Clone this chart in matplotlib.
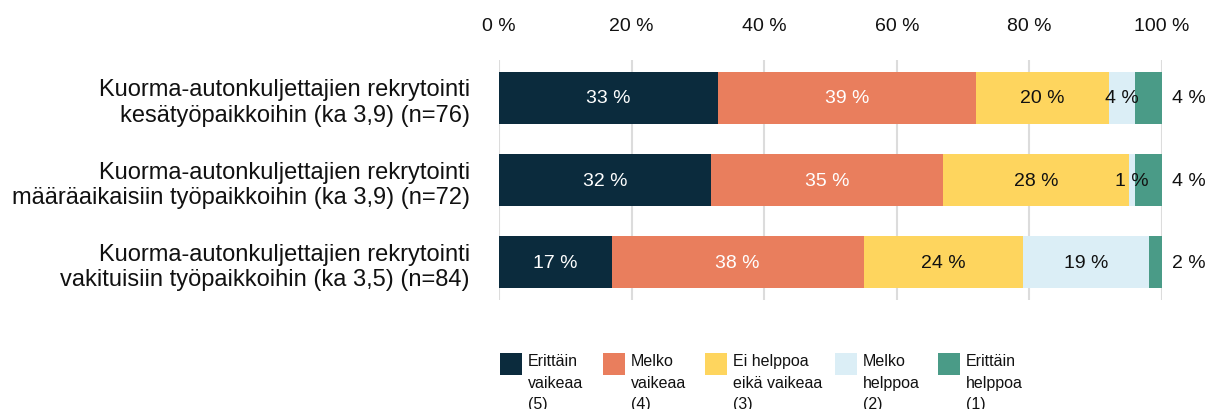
import matplotlib.pyplot as plt
from matplotlib.patches import Rectangle

plt.rcParams['font.family'] = ['Liberation Sans', 'DejaVu Sans']

categories = [
    "Kuorma-autonkuljettajien rekrytointi\nkesätyöpaikkoihin (ka 3,9) (n=76)",
    "Kuorma-autonkuljettajien rekrytointi\nmääräaikaisiin työpaikkoihin (ka 3,9) (n=72)",
    "Kuorma-autonkuljettajien rekrytointi\nvakituisiin työpaikkoihin (ka 3,5) (n=84)",
]
erittain_vaikeaa = [33, 32, 17]
melko_vaikeaa = [39, 35, 38]
ei_helppoa_eika_vaikeaa = [20, 28, 24]
melko_helppoa = [4, 1, 19]
erittain_helppoa = [4, 4, 2]

series_labels = [
    "Erittäin\nvaikeaa\n(5)",
    "Melko\nvaikeaa\n(4)",
    "Ei helppoa\neikä vaikeaa\n(3)",
    "Melko\nhelppoa\n(2)",
    "Erittäin\nhelppoa\n(1)",
]
colors = ["#0b2b3d", "#e97e5d", "#fed55e", "#dbeef6", "#4a9b87"]
label_colors = ["white", "white", "#111111", "#111111", "#111111"]

series = [erittain_vaikeaa, melko_vaikeaa, ei_helppoa_eika_vaikeaa,
          melko_helppoa, erittain_helppoa]

W, H = 1213, 410
fig = plt.figure(figsize=(W / 100, H / 100), dpi=100)
ax = fig.add_axes([499 / W, 1 - 301 / H, (1162 - 499) / W, 240 / H])

ypos = list(range(len(categories)))
left = [0] * len(categories)
for i, vals in enumerate(series):
    bars = ax.barh(ypos, vals, left=left, height=0.64, color=colors[i],
                   edgecolor="none", zorder=2)
    for j, v in enumerate(vals):
        if i == len(series) - 1:
            # last segment is labelled outside the bar
            ax.text(100 + 4, j, f"{v} %", va="center", ha="center",
                    fontsize=14, color="#111111")
        else:
            ax.text(left[j] + v / 2, j, f"{v} %", va="center", ha="center",
                    fontsize=14, color=label_colors[i])
    left = [l + v for l, v in zip(left, vals)]

ax.set_xlim(0, 100)
ax.set_ylim(2.46, -0.46)
ax.set_xticks(range(0, 101, 20))
ax.set_xticklabels([f"{t} %" for t in range(0, 101, 20)])
ax.xaxis.tick_top()
ax.tick_params(axis="x", length=0, pad=19, labelsize=14, labelcolor="#111111")
ax.set_yticks(ypos)
ax.set_yticklabels(categories, fontsize=17, linespacing=1.22, color="#111111")
ax.tick_params(axis="y", length=0, pad=21)
ax.grid(axis="x", color="#dcdcdc", linewidth=1.5, zorder=0)
for s in ax.spines.values():
    s.set_visible(False)

# legend: square swatch with a three-line label beside it
swatch_x = [500, 603, 705, 835, 938]
for x, c, lab in zip(swatch_x, colors, series_labels):
    fig.patches.append(Rectangle((x / W, 1 - 376 / H), 22 / W, 22 / H,
                                 transform=fig.transFigure, facecolor=c,
                                 edgecolor="none"))
    fig.text((x + 28) / W, 1 - 354 / H, lab, va="top", ha="left",
             fontsize=11.5, linespacing=1.55, color="#111111")

fig.savefig("out.png", dpi=100)
